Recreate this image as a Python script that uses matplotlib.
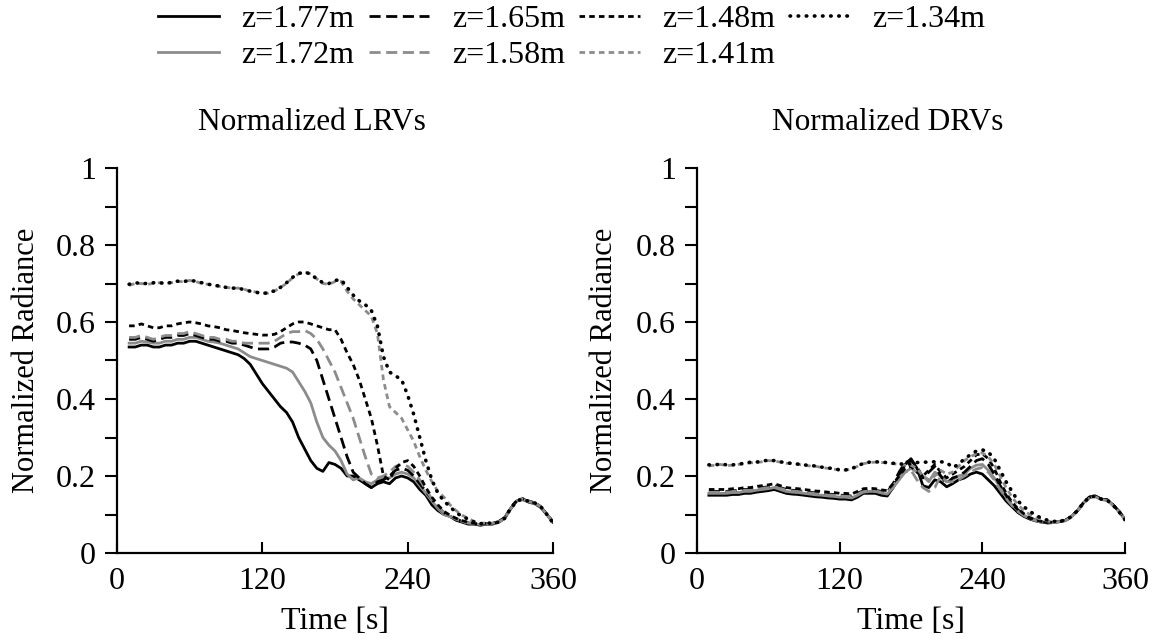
import matplotlib
matplotlib.use("Agg")
import matplotlib.pyplot as plt
from matplotlib.ticker import MultipleLocator

plt.rcParams["font.family"] = ["Liberation Serif", "DejaVu Serif"]

# time axis [s], 5 s sampling
time_s = list(range(10, 361, 5))

heights = ["z=1.77m", "z=1.72m", "z=1.65m", "z=1.58m", "z=1.48m", "z=1.41m", "z=1.34m"]

# ---- Normalized LRVs ----
lrv_177 = [0.535, 0.535, 0.54, 0.54, 0.535, 0.535, 0.54, 0.54, 0.545, 0.545, 0.55, 0.55, 0.545, 0.54, 0.535, 0.53, 0.525, 0.52,
           0.515, 0.505, 0.49, 0.465, 0.44, 0.42, 0.4, 0.38, 0.365, 0.34, 0.3, 0.27, 0.24, 0.22, 0.212, 0.235, 0.23, 0.22, 0.2, 0.2,
           0.19, 0.18, 0.17, 0.18, 0.185, 0.18, 0.195, 0.2, 0.195, 0.185, 0.165, 0.15, 0.125, 0.11, 0.1, 0.095, 0.085, 0.08, 0.075, 0.075,
           0.072, 0.075, 0.075, 0.08, 0.09, 0.115, 0.135, 0.14, 0.132, 0.128, 0.118, 0.1, 0.08]
lrv_172 = [0.545, 0.545, 0.55, 0.548, 0.545, 0.545, 0.55, 0.55, 0.555, 0.555, 0.56, 0.56, 0.555, 0.55, 0.548, 0.545, 0.54, 0.535,
           0.53, 0.52, 0.51, 0.505, 0.5, 0.495, 0.49, 0.485, 0.48, 0.47, 0.445, 0.42, 0.39, 0.34, 0.3, 0.28, 0.265, 0.24, 0.205, 0.19,
           0.195, 0.185, 0.18, 0.19, 0.195, 0.195, 0.205, 0.21, 0.205, 0.195, 0.175, 0.155, 0.135, 0.115, 0.1, 0.095, 0.088, 0.082, 0.078, 0.076,
           0.074, 0.076, 0.077, 0.082, 0.092, 0.115, 0.135, 0.138, 0.133, 0.128, 0.118, 0.1, 0.082]
lrv_165 = [0.555, 0.555, 0.56, 0.555, 0.55, 0.555, 0.56, 0.56, 0.565, 0.565, 0.57, 0.565, 0.56, 0.555, 0.555, 0.55, 0.55, 0.545,
           0.545, 0.54, 0.535, 0.53, 0.53, 0.53, 0.535, 0.545, 0.548, 0.548, 0.545, 0.54, 0.53, 0.5, 0.45, 0.4, 0.35, 0.3, 0.25, 0.21,
           0.195, 0.18, 0.17, 0.185, 0.19, 0.2, 0.215, 0.22, 0.215, 0.2, 0.18, 0.16, 0.14, 0.12, 0.105, 0.095, 0.088, 0.082, 0.078, 0.076,
           0.074, 0.076, 0.076, 0.08, 0.09, 0.115, 0.136, 0.14, 0.134, 0.13, 0.12, 0.1, 0.08]
lrv_158 = [0.56, 0.56, 0.565, 0.56, 0.555, 0.56, 0.565, 0.565, 0.57, 0.57, 0.575, 0.57, 0.565, 0.56, 0.56, 0.555, 0.555, 0.55,
           0.55, 0.545, 0.545, 0.545, 0.545, 0.545, 0.55, 0.56, 0.57, 0.575, 0.575, 0.578, 0.57, 0.555, 0.53, 0.5, 0.47, 0.43, 0.39, 0.35,
           0.3, 0.25, 0.205, 0.195, 0.2, 0.21, 0.225, 0.23, 0.225, 0.21, 0.19, 0.165, 0.14, 0.12, 0.105, 0.095, 0.088, 0.082, 0.078, 0.076,
           0.074, 0.076, 0.076, 0.08, 0.09, 0.115, 0.136, 0.14, 0.134, 0.13, 0.12, 0.1, 0.08]
lrv_148 = [0.59, 0.59, 0.595, 0.59, 0.585, 0.585, 0.59, 0.59, 0.595, 0.598, 0.6, 0.598, 0.595, 0.59, 0.588, 0.585, 0.58, 0.578,
           0.575, 0.572, 0.57, 0.568, 0.566, 0.566, 0.568, 0.575, 0.585, 0.595, 0.6, 0.6, 0.595, 0.59, 0.585, 0.58, 0.58, 0.555, 0.52, 0.49,
           0.45, 0.4, 0.35, 0.28, 0.2, 0.19, 0.22, 0.235, 0.24, 0.225, 0.2, 0.17, 0.145, 0.125, 0.108, 0.098, 0.09, 0.084, 0.08, 0.077,
           0.075, 0.077, 0.077, 0.081, 0.092, 0.116, 0.137, 0.141, 0.135, 0.13, 0.12, 0.1, 0.08]
lrv_141 = [0.695, 0.7, 0.7, 0.698, 0.7, 0.702, 0.7, 0.702, 0.705, 0.705, 0.708, 0.705, 0.7, 0.698, 0.695, 0.692, 0.69, 0.688,
           0.688, 0.685, 0.68, 0.678, 0.675, 0.675, 0.68, 0.69, 0.7, 0.715, 0.725, 0.73, 0.725, 0.712, 0.7, 0.698, 0.705, 0.705, 0.68, 0.66,
           0.645, 0.63, 0.615, 0.57, 0.45, 0.38, 0.365, 0.35, 0.32, 0.29, 0.25, 0.215, 0.185, 0.16, 0.145, 0.125, 0.11, 0.098, 0.09, 0.082,
           0.077, 0.078, 0.077, 0.08, 0.09, 0.115, 0.135, 0.14, 0.134, 0.13, 0.12, 0.1, 0.078]
lrv_134 = [0.698, 0.702, 0.7, 0.7, 0.702, 0.702, 0.7, 0.703, 0.706, 0.705, 0.708, 0.706, 0.702, 0.698, 0.696, 0.693, 0.69, 0.688,
           0.688, 0.684, 0.68, 0.677, 0.674, 0.676, 0.681, 0.69, 0.702, 0.716, 0.726, 0.73, 0.724, 0.712, 0.702, 0.7, 0.708, 0.71, 0.69, 0.67,
           0.655, 0.645, 0.63, 0.59, 0.51, 0.47, 0.46, 0.45, 0.41, 0.36, 0.3, 0.24, 0.19, 0.155, 0.135, 0.12, 0.105, 0.095, 0.088, 0.08,
           0.076, 0.078, 0.077, 0.08, 0.09, 0.115, 0.135, 0.14, 0.134, 0.13, 0.12, 0.1, 0.078]

# ---- Normalized DRVs ----
drv_177 = [0.15, 0.15, 0.15, 0.15, 0.152, 0.152, 0.155, 0.155, 0.158, 0.16, 0.162, 0.165, 0.16, 0.155, 0.153, 0.152, 0.15, 0.148,
           0.146, 0.145, 0.143, 0.142, 0.14, 0.14, 0.138, 0.145, 0.155, 0.155, 0.155, 0.15, 0.148, 0.17, 0.2, 0.23, 0.245, 0.22, 0.175, 0.17,
           0.19, 0.185, 0.172, 0.18, 0.19, 0.195, 0.205, 0.21, 0.205, 0.19, 0.175, 0.155, 0.135, 0.12, 0.105, 0.095, 0.088, 0.083, 0.08, 0.078,
           0.08, 0.082, 0.085, 0.095, 0.11, 0.13, 0.145, 0.148, 0.14, 0.138, 0.125, 0.108, 0.088]
drv_172 = [0.155, 0.155, 0.155, 0.155, 0.157, 0.157, 0.16, 0.16, 0.163, 0.165, 0.167, 0.17, 0.165, 0.16, 0.158, 0.157, 0.155, 0.153,
           0.151, 0.15, 0.148, 0.147, 0.145, 0.145, 0.143, 0.15, 0.158, 0.16, 0.16, 0.156, 0.153, 0.17, 0.19, 0.21, 0.22, 0.21, 0.2, 0.185,
           0.21, 0.2, 0.185, 0.19, 0.2, 0.205, 0.22, 0.228, 0.23, 0.215, 0.195, 0.17, 0.145, 0.125, 0.11, 0.098, 0.09, 0.084, 0.08, 0.078,
           0.079, 0.081, 0.084, 0.094, 0.11, 0.13, 0.144, 0.147, 0.14, 0.137, 0.124, 0.107, 0.087]
drv_165 = [0.16, 0.16, 0.16, 0.16, 0.162, 0.162, 0.165, 0.165, 0.168, 0.17, 0.172, 0.175, 0.17, 0.165, 0.163, 0.162, 0.16, 0.158,
           0.156, 0.155, 0.153, 0.152, 0.15, 0.15, 0.148, 0.155, 0.162, 0.164, 0.163, 0.16, 0.158, 0.18, 0.21, 0.235, 0.24, 0.225, 0.195, 0.21,
           0.225, 0.2, 0.18, 0.195, 0.2, 0.21, 0.225, 0.24, 0.245, 0.23, 0.205, 0.175, 0.15, 0.128, 0.112, 0.1, 0.09, 0.085, 0.081, 0.079,
           0.08, 0.082, 0.085, 0.095, 0.11, 0.13, 0.145, 0.148, 0.14, 0.138, 0.125, 0.108, 0.088]
drv_158 = [0.158, 0.158, 0.158, 0.158, 0.16, 0.16, 0.163, 0.163, 0.166, 0.168, 0.17, 0.173, 0.168, 0.163, 0.161, 0.16, 0.158, 0.156,
           0.154, 0.153, 0.151, 0.15, 0.148, 0.148, 0.146, 0.153, 0.16, 0.162, 0.161, 0.158, 0.156, 0.175, 0.195, 0.21, 0.215, 0.19, 0.17, 0.16,
           0.17, 0.2, 0.185, 0.185, 0.19, 0.2, 0.21, 0.218, 0.222, 0.21, 0.19, 0.165, 0.142, 0.123, 0.108, 0.097, 0.089, 0.084, 0.08, 0.078,
           0.079, 0.081, 0.084, 0.094, 0.11, 0.13, 0.144, 0.147, 0.14, 0.137, 0.124, 0.107, 0.087]
drv_148 = [0.165, 0.165, 0.165, 0.165, 0.167, 0.167, 0.17, 0.17, 0.173, 0.175, 0.177, 0.18, 0.175, 0.17, 0.168, 0.167, 0.165, 0.163,
           0.161, 0.16, 0.158, 0.157, 0.155, 0.155, 0.153, 0.16, 0.167, 0.168, 0.167, 0.164, 0.162, 0.18, 0.2, 0.22, 0.225, 0.21, 0.2, 0.215,
           0.23, 0.21, 0.195, 0.205, 0.215, 0.225, 0.24, 0.255, 0.258, 0.245, 0.22, 0.185, 0.155, 0.132, 0.115, 0.102, 0.092, 0.086, 0.082, 0.08,
           0.08, 0.082, 0.085, 0.095, 0.11, 0.13, 0.145, 0.148, 0.14, 0.138, 0.125, 0.108, 0.088]
drv_141 = [0.226, 0.228, 0.23, 0.227, 0.228, 0.23, 0.232, 0.234, 0.235, 0.237, 0.24, 0.239, 0.236, 0.233, 0.232, 0.23, 0.228, 0.226,
           0.225, 0.222, 0.22, 0.218, 0.215, 0.215, 0.218, 0.225, 0.232, 0.235, 0.236, 0.235, 0.234, 0.232, 0.23, 0.228, 0.228, 0.22, 0.2, 0.19,
           0.2, 0.215, 0.205, 0.21, 0.225, 0.24, 0.25, 0.258, 0.26, 0.25, 0.23, 0.2, 0.17, 0.145, 0.125, 0.11, 0.1, 0.092, 0.087, 0.083,
           0.08, 0.082, 0.084, 0.094, 0.108, 0.128, 0.142, 0.146, 0.139, 0.136, 0.123, 0.106, 0.086]
drv_134 = [0.229, 0.229, 0.231, 0.229, 0.229, 0.231, 0.233, 0.236, 0.236, 0.239, 0.241, 0.24, 0.237, 0.234, 0.233, 0.231, 0.229, 0.227,
           0.226, 0.223, 0.221, 0.219, 0.216, 0.216, 0.219, 0.226, 0.233, 0.236, 0.237, 0.236, 0.235, 0.233, 0.232, 0.23, 0.232, 0.235, 0.236, 0.236,
           0.237, 0.237, 0.235, 0.222, 0.23, 0.245, 0.255, 0.265, 0.268, 0.262, 0.245, 0.215, 0.185, 0.16, 0.135, 0.12, 0.108, 0.098, 0.09, 0.085,
           0.082, 0.083, 0.085, 0.095, 0.11, 0.13, 0.145, 0.148, 0.14, 0.137, 0.124, 0.107, 0.086]

lrv_series = [lrv_177, lrv_172, lrv_165, lrv_158, lrv_148, lrv_141, lrv_134]
drv_series = [drv_177, drv_172, drv_165, drv_158, drv_148, drv_141, drv_134]

BLACK = "#000000"
GRAY = "#8c8c8c"
LW = 2.0
styles = [
    dict(color=BLACK, linestyle="-"),
    dict(color=GRAY, linestyle="-"),
    dict(color=BLACK, linestyle=(0, (4.0, 2.0))),
    dict(color=GRAY, linestyle=(0, (4.0, 2.0))),
    dict(color=BLACK, linestyle=(0, (2.0, 1.5))),
    dict(color=GRAY, linestyle=(0, (2.0, 1.5))),
    dict(color=BLACK, linestyle=(0, (0.15, 2.1)), dash_capstyle="round", linewidth=2.6),
]

W, H = 1157, 640
FS = 23
fig = plt.figure(figsize=(W / 100, H / 100), dpi=100)
ax_l = fig.add_axes([117 / W, 1 - 553 / H, 436 / W, 385 / H])
ax_r = fig.add_axes([697 / W, 1 - 553 / H, 428 / W, 385 / H])

for ax, series, ylab_x in ((ax_l, lrv_series, -0.175), (ax_r, drv_series, -0.183)):
    handles = []
    for label, vals, st in zip(heights, series, styles):
        kw = dict(linewidth=LW)
        kw.update(st)
        (h,) = ax.plot(time_s, vals, label=label, **kw)
        handles.append(h)
    ax.set_xlim(0, 360)
    ax.set_ylim(0, 1)
    ax.xaxis.set_major_locator(MultipleLocator(120))
    ax.yaxis.set_minor_locator(MultipleLocator(0.1))
    ax.set_yticks([0, 0.2, 0.4, 0.6, 0.8, 1.0])
    ax.set_yticklabels(["0", "0.2", "0.4", "0.6", "0.8", "1"])
    for side in ("top", "right"):
        ax.spines[side].set_visible(False)
    for side in ("left", "bottom"):
        ax.spines[side].set_linewidth(1.6)
    ax.tick_params(axis="y", which="both", direction="out", length=9, width=1.5, labelsize=FS, pad=6)
    ax.tick_params(axis="x", which="major", direction="in", length=8, width=1.5, labelsize=FS, pad=10)
    ax.set_xlabel("Time [s]", fontsize=FS)
    ax.set_ylabel("Normalized Radiance", fontsize=22)
    ax.xaxis.set_label_coords(0.5, -0.14)
    ax.yaxis.set_label_coords(ylab_x, 0.5)

fig.text(312 / W, 1 - 123 / H, "Normalized LRVs", fontsize=22.5, ha="center", va="center")
fig.text(888 / W, 1 - 123 / H, "Normalized DRVs", fontsize=22.5, ha="center", va="center")

fig.legend(handles=handles, labels=heights, loc="upper center", ncol=4,
           bbox_to_anchor=(572 / W, 1 - 3 / H), frameon=False, fontsize=FS,
           handlelength=1.9, handletextpad=0.7, columnspacing=0.45,
           labelspacing=0.2, borderaxespad=0.0, borderpad=0.05)

fig.savefig("out.png", dpi=100)
